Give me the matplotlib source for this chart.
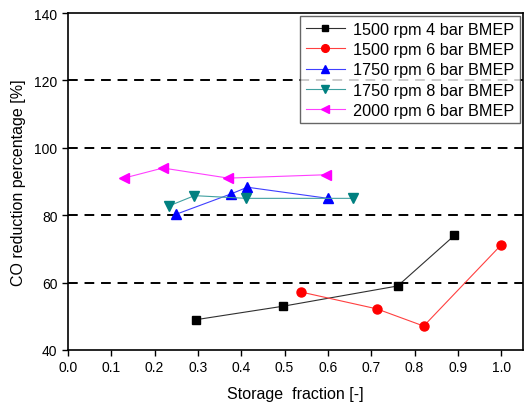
import matplotlib
matplotlib.use("Agg")
import matplotlib.pyplot as plt

plt.rcParams['font.family'] = ['Liberation Sans', 'DejaVu Sans']

labels = ["1500 rpm 4 bar BMEP", "1500 rpm 6 bar BMEP", "1750 rpm 6 bar BMEP",
          "1750 rpm 8 bar BMEP", "2000 rpm 6 bar BMEP"]
x_1500_4 = [0.296, 0.497, 0.761, 0.892]
y_1500_4 = [49, 53, 59, 74]
x_1500_6 = [0.538, 0.713, 0.821, 1.0]
y_1500_6 = [57.2, 52.2, 47.1, 71.2]
x_1750_6 = [0.25, 0.376, 0.414, 0.6]
y_1750_6 = [80.3, 86.3, 88.3, 85]
x_1750_8 = [0.234, 0.292, 0.411, 0.657]
y_1750_8 = [82.8, 85.8, 85, 85]
x_2000_6 = [0.129, 0.219, 0.37, 0.595]
y_2000_6 = [91, 94, 91, 92]

series = [(x_1500_4, y_1500_4, 's', 'black', '#303030', 5.5),
          (x_1500_6, y_1500_6, 'o', '#ff0000', '#ff4040', 6.5),
          (x_1750_6, y_1750_6, '^', '#0000ff', '#4040ff', 6.5),
          (x_1750_8, y_1750_8, 'v', '#008080', '#40a0a0', 6.5),
          (x_2000_6, y_2000_6, '<', '#ff00ff', '#ff40ff', 6.5)]

fig = plt.figure(figsize=(5.25, 4.06), dpi=100)
ax = fig.add_axes([0.1295, 0.1355, 0.8665, 0.83])

for yv in [60, 80, 100, 120]:
    ax.axhline(yv, color='black', linestyle=(0, (5, 3.5)), linewidth=1.4, zorder=1)

for (xs, ys, m, mc, lc, ms), lab in zip(series, labels):
    ax.plot(xs, ys, color=lc, linewidth=0.8, marker=m, markersize=ms,
            markerfacecolor=mc, markeredgecolor=mc, label=lab, zorder=3)

ax.set_xlim(0, 1.05)
ax.set_ylim(40, 140)
ax.set_xticks([i / 10 for i in range(11)])
ax.set_xticklabels([f"{i/10:.1f}" for i in range(11)])
ax.set_yticks(range(40, 141, 20))
ax.tick_params(direction='out', length=4, width=1, labelsize=10, top=False, right=False)
for s in ax.spines.values():
    s.set_linewidth(1.2)

ax.set_xlabel("Storage  fraction [-]", fontsize=11.5, labelpad=8)
ax.set_ylabel("CO reduction percentage [%]", fontsize=11.5, labelpad=6)

leg = ax.legend(loc='upper right', fontsize=11.7, frameon=True, fancybox=False,
                edgecolor='#404040', borderaxespad=0.2, handlelength=2.4,
                labelspacing=0.32, borderpad=0.35, handletextpad=0.5,
                markerscale=0.85)
leg.get_frame().set_linewidth(1.0)

fig.savefig("out.png", dpi=100)
